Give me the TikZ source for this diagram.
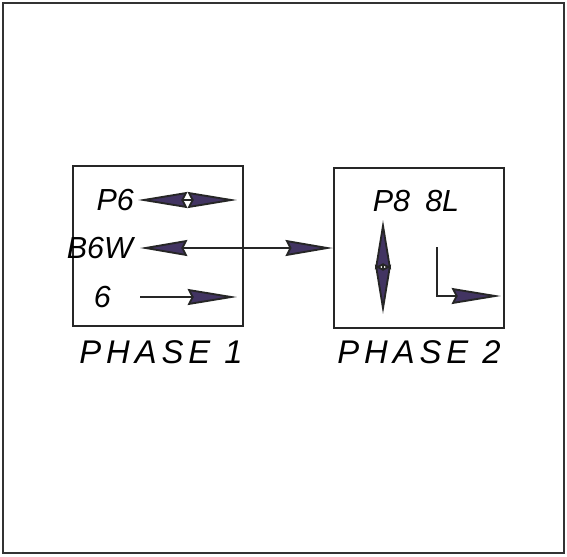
\documentclass[tikz,border=0pt]{standalone}
\usepackage{fontspec}
\setmainfont{Liberation Sans}
\newfontfamily\phasefont[LetterSpace=15]{Liberation Sans}
\usepackage{tikz}
\usetikzlibrary{arrows.meta, positioning}
\definecolor{headfill}{RGB}{66,52,98}
\tikzstyle{phasebox} = [rectangle, draw=black!85, line width=2pt, minimum width=170*0.03cm, minimum height=160*0.03cm]
\tikzstyle{move} = [font=\fontsize{26}{30}\selectfont\itshape, inner sep=0pt]
\tikzstyle{phase} = [font=\fontsize{28}{32}\selectfont\phasefont\itshape, inner sep=0pt]
\tikzstyle{arrow} = [line width=1.6pt, draw=black!85, -{Stealth[length=1.48cm, width=0.48cm, inset=0.12cm, fill=headfill]}]
\tikzstyle{twoway} = [line width=1.6pt, draw=black!85, {Stealth[length=1.42cm, width=0.48cm, inset=0.12cm, fill=headfill]}-{Stealth[length=1.42cm, width=0.48cm, inset=0.12cm, fill=headfill]}]

\begin{document}
\begin{tikzpicture}[x=0.03cm, y=-0.03cm]
\useasboundingbox (0,0) rectangle (567,556);
\draw[line width=1.6pt, black!80] (3,3) rectangle (564,553);

\node (ph1) [phasebox] at (158,246) {};
\node (ph2) [phasebox] at (419,248) {};

% phase 1 movements
\node (P6) [move, anchor=east] at (134,200) {P6};
\node (B6W) [move, anchor=east] at (133,248) {B6W};
\node (six) [move, anchor=east] at (111,297) {6};
\coordinate (p6l) at (138,200);
\coordinate (p6m) at (188,200);
\coordinate (p6r) at (237,200);
\coordinate (b6wl) at (140,248);
\coordinate (sixl) at (140,297);
\coordinate (sixr) at (237,297);

% phase 2 movements
\node (P8) [move] at (416,201) {P8\hspace{0.5em}8L};
\coordinate (p8t) at (383,220);
\coordinate (p8m) at (383,267);
\coordinate (p8b) at (383,314);
\coordinate (lt) at (437,247);
\coordinate (lc) at (437,296);
\coordinate (lr) at (501,296);

\node (lab1) [phase] at (161,352) {PHASE 1};
\node (lab2) [phase] at (419,352) {PHASE 2};

\draw [arrow] (p6m) -- (p6l);
\draw [arrow] (p6m) -- (p6r);
\draw [twoway] (b6wl) -- (ph2.west);
\draw [arrow] (sixl) -- (sixr);
\draw [arrow] (p8m) -- (p8t);
\draw [arrow] (p8m) -- (p8b);
\draw [arrow] (lt) -- (lc) -- (lr);
\end{tikzpicture}
\end{document}
